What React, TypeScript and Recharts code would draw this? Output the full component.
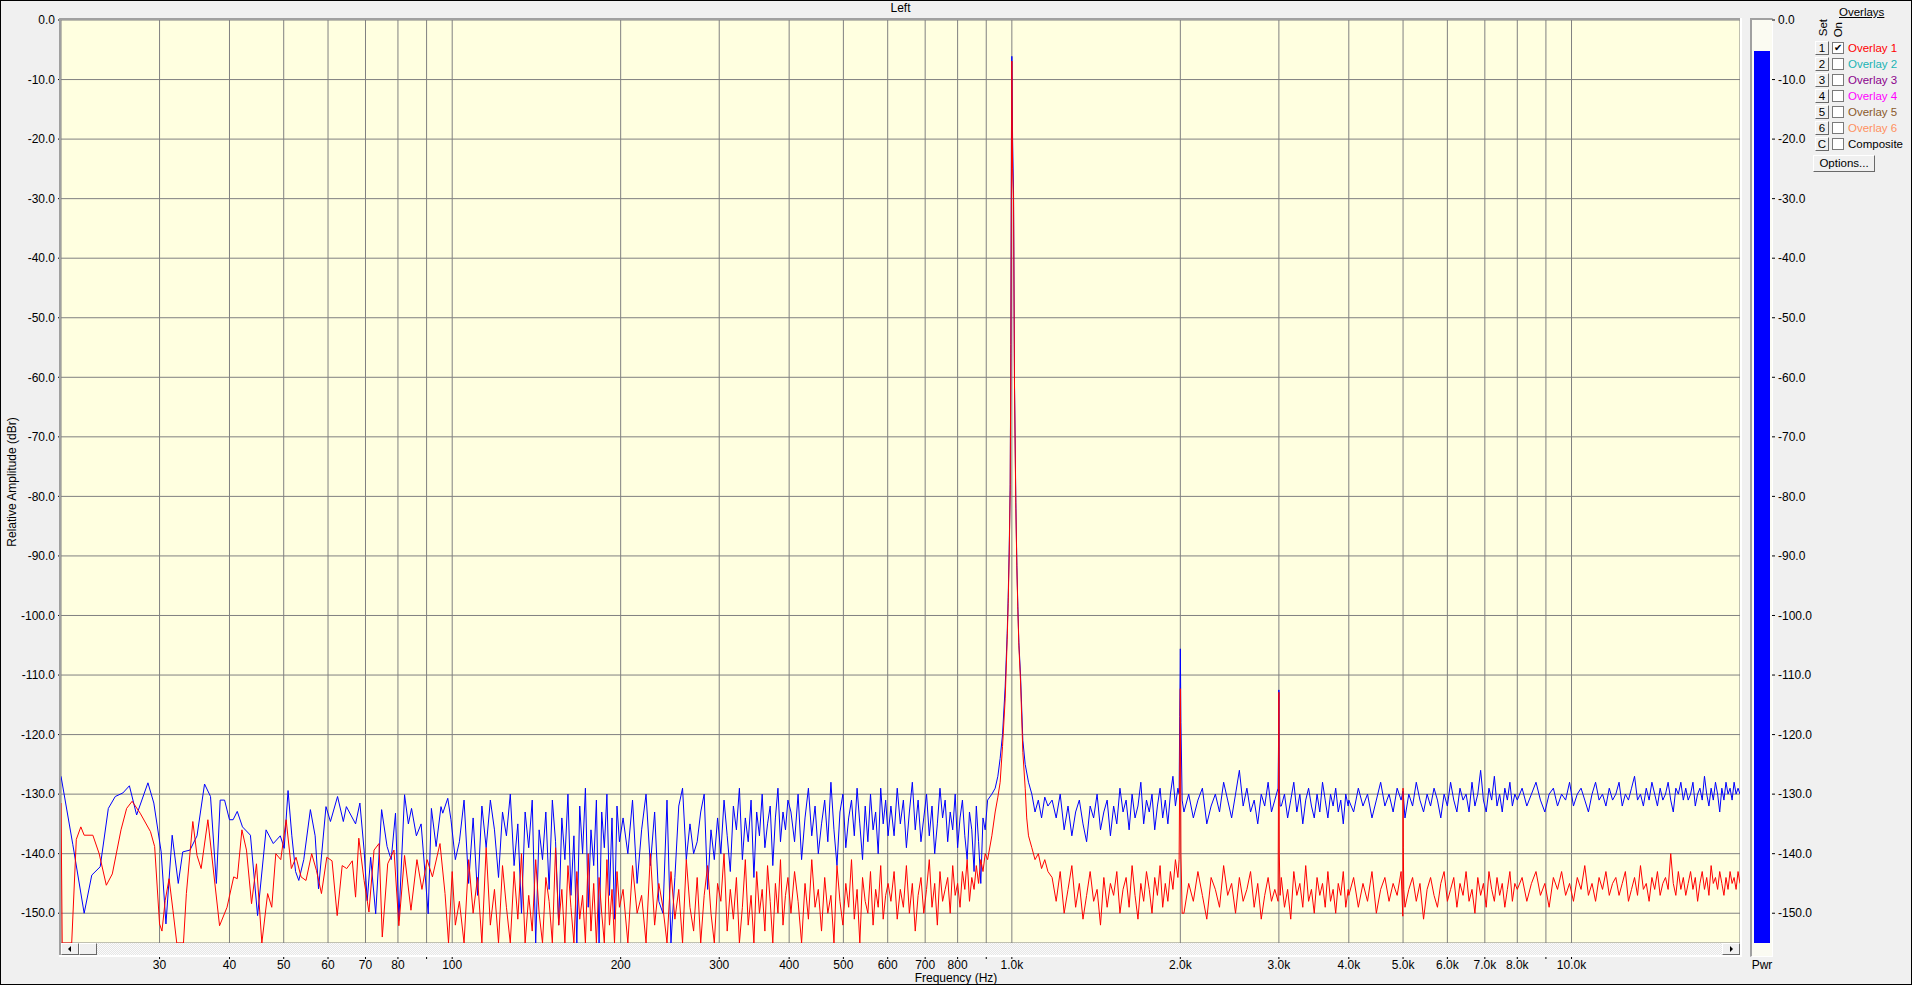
import React from 'react';
import { LineChart, Line, XAxis, YAxis, CartesianGrid, BarChart, Bar } from 'recharts';

// axis ticks
const xTicks = [30, 40, 50, 60, 70, 80, 90, 100, 200, 300, 400, 500, 600, 700, 800, 900, 1000, 2000, 3000, 4000, 5000, 6000, 7000, 8000, 9000, 10000];
const xTickLabels = ['30', '40', '50', '60', '70', '80', '', '100', '200', '300', '400', '500', '600', '700', '800', '', '1.0k', '2.0k', '3.0k', '4.0k', '5.0k', '6.0k', '7.0k', '8.0k', '', '10.0k'];
const yTicks = [0, -10, -20, -30, -40, -50, -60, -70, -80, -90, -100, -110, -120, -130, -140, -150];

// 20-100 Hz, read point by point as [Hz, dBr]
const blueLow = [
  [20, -127], [21, -138.5], [22, -150], [22.7, -143.6], [23.5, -142.2], [24.3, -132.4], [25, -130.4], [25.8, -129.8], [26.5, -128.6], [27.3, -133.5],
  [28.6, -128.1], [29.3, -131.5], [30.2, -139.7], [30.8, -151.8], [31.6, -136.9], [32.4, -145], [33, -139.7], [34, -139.4], [35, -137], [36.1, -128.3],
  [37, -130.4], [37.9, -145], [38.5, -131], [39.2, -131], [40, -134.3], [40.6, -134.3], [41.3, -132.9], [42.2, -135.5], [43.6, -136.9], [44.9, -150.4],
  [46.5, -136], [47.9, -138.3], [49.3, -137], [50.1, -139.1], [50.9, -129.4], [51.7, -137], [52.5, -143], [53.2, -144.5], [54.3, -141], [55.8, -132.6],
  [56.9, -137], [57.7, -145.9], [59.5, -132.1], [60.6, -134.6], [62.4, -130.4], [63.9, -134.6], [64.7, -132.1], [67.2, -135], [68.4, -131.5], [69.6, -139.4],
  [70.5, -147.9], [71.5, -140.6], [73, -150.1], [74.8, -132.6], [76.5, -138.8], [77.8, -141], [79.2, -133.2], [80.3, -151.2], [82.2, -130.1], [83.5, -135],
  [84.6, -132.4], [86.3, -137], [88, -135], [90.6, -150.1], [91.8, -132.4], [93.6, -138.8], [95.5, -132.1], [96.2, -133.2], [98.2, -130.7], [99.5, -134.3],
  [101.3, -141],
];
const redLow = [
  [20, -131.5], [20.1, -155], [20.9, -155], [21.3, -137.6], [21.7, -135.5], [22, -136.9], [22.8, -136.9], [23.4, -140], [24.1, -145.3], [24.7, -143.4],
  [25.6, -136], [26.2, -132.4], [26.8, -131.2], [27.7, -133.2], [28.9, -136.3], [29.4, -138.8], [30, -151.8], [30.3, -153], [30.7, -147.9], [31.2, -144.2],
  [31.7, -149.5], [32.2, -155], [33.1, -155], [33.5, -146.7], [34.4, -134.6], [35, -140.3], [35.6, -142.5], [36.6, -134.3], [37.3, -141.4], [38.4, -152.1],
  [39.6, -149], [40.7, -143.9], [41.3, -144.2], [42.1, -136], [42.9, -139.4], [43.8, -148.4], [44.7, -141.7], [45.7, -155], [46.8, -146.7], [47.6, -149],
  [48.4, -140], [49.4, -141], [50.5, -134.3], [51.6, -142.5], [52.6, -140.6], [53.7, -143.9], [54.8, -144.5], [56.1, -140], [57.2, -142.8], [58.4, -146.7],
  [59.7, -140.6], [61, -141.2], [62.3, -150.4], [63.6, -142], [64.8, -142.5], [66.3, -141.2], [67.2, -147.3], [68.1, -137.4], [69.6, -144.5], [71, -149.8],
  [72.5, -139.4], [74, -138.3], [75, -154], [76.7, -141.7], [78.7, -139.4], [80.3, -152.1], [82.2, -140.3], [84.4, -149.5], [86.5, -141], [88.3, -146],
  [90.2, -141], [92.2, -143.9], [95.1, -138.3], [97.1, -146.7], [98.5, -155], [100, -143], [101.3, -152],
];

// 100-900 Hz noise floor
const midHz1 = [103, 105, 107, 109, 111, 113, 115, 117, 119, 121, 123, 125, 127, 129, 131, 133, 135, 137, 139, 141, 143, 145, 147, 149, 151, 153, 155, 157, 159, 161, 163, 165, 167, 169, 171, 173, 175, 177, 179, 181, 183, 185, 187, 189, 191, 193, 195, 197, 199];
const blueMid1 = [-138, -131, -145, -134, -147, -132, -139, -131, -136, -144, -133, -137, -130, -142, -135, -150, -133, -139, -131, -155, -136, -141, -133, -146, -131, -138, -152, -134, -141, -130, -147, -137, -155, -132, -140, -129, -149, -136, -142, -131, -155, -133, -139, -130, -147, -134, -151, -132, -138];
const redMid1 = [-148, -155, -141, -150, -144, -155, -139, -152, -146, -155, -142, -149, -155, -143, -151, -140, -155, -147, -153, -141, -150, -155, -144, -148, -155, -139, -152, -146, -155, -142, -149, -155, -143, -151, -147, -155, -140, -153, -145, -155, -144, -150, -155, -141, -152, -146, -155, -143, -149];

const midHz2 = [202, 206, 210, 214, 218, 222, 226, 230, 234, 238, 242, 246, 250, 254, 258, 262, 266, 270, 274, 278, 282, 286, 290, 294, 298, 302, 306, 310, 314, 318, 322, 326, 330, 334, 338, 342, 346, 350, 354, 358, 362, 366, 370, 374, 378, 382, 386, 390, 394, 398];
const blueMid2 = [-134, -140, -131, -145, -136, -130, -142, -133, -148, -150, -131, -155, -144, -132, -129, -141, -135, -140, -138, -133, -130, -146, -136, -141, -134, -140, -131, -137, -143, -132, -136, -129, -141, -134, -138, -131, -144, -133, -137, -130, -139, -135, -132, -142, -134, -129, -138, -133, -136, -131];
const redMid2 = [-146, -155, -142, -150, -147, -155, -140, -152, -145, -149, -155, -143, -151, -146, -155, -141, -149, -153, -144, -155, -147, -142, -150, -155, -145, -148, -140, -153, -146, -151, -144, -155, -149, -141, -152, -147, -155, -143, -150, -146, -153, -142, -148, -155, -145, -150, -141, -152, -147, -144];

const midHz3 = [403, 409, 415, 421, 427, 433, 439, 445, 451, 457, 463, 469, 475, 481, 487, 493, 499, 505, 511, 517, 523, 529, 535, 541, 547, 553, 559, 565, 571, 577, 583, 589, 595, 601];
const blueMid3 = [-133, -138, -130, -141, -134, -129, -137, -132, -140, -135, -131, -138, -128, -136, -142, -133, -130, -139, -134, -131, -137, -129, -135, -141, -132, -138, -130, -136, -133, -140, -129, -135, -131, -137];
const redMid3 = [-150, -143, -148, -155, -145, -151, -141, -149, -146, -153, -144, -150, -147, -155, -142, -148, -152, -145, -149, -141, -151, -146, -155, -144, -148, -150, -143, -152, -146, -149, -142, -151, -147, -145];

const midHz4 = [608, 616, 624, 632, 640, 648, 656, 664, 672, 680, 688, 696, 704, 712, 720, 728, 736, 744, 752, 760, 768, 776, 784, 792, 800, 808, 816, 824, 832, 840, 848, 856, 864, 872, 880, 888, 896];
const blueMid4 = [-132, -137, -129, -135, -131, -139, -133, -128, -136, -131, -138, -134, -130, -137, -132, -140, -135, -129, -134, -131, -138, -133, -136, -130, -139, -134, -131, -137, -141, -133, -136, -143, -132, -138, -145, -134, -136];
const redMid4 = [-148, -143, -151, -146, -149, -142, -150, -145, -153, -147, -144, -150, -146, -141, -149, -145, -152, -143, -148, -146, -144, -150, -142, -147, -145, -149, -143, -146, -141, -148, -144, -146, -142, -145, -141, -143, -140];

// 1 kHz test tone
const bluePeak = [
  [905, -131], [921, -130], [933.7, -129], [944, -127], [953, -124], [962.3, -120], [972.9, -112], [981, -103], [985, -97], [989.1, -89],
  [993.2, -78], [995.9, -54.5], [998, -22], [1000, -6.1], [1003, -20], [1006.9, -28.7], [1011, -61.4], [1016.6, -81], [1020.8, -91.6], [1025, -98.5],
  [1029.2, -104.5], [1036.3, -110], [1046.3, -121], [1056.4, -125], [1070.9, -128], [1085.7, -130], [1100, -133], [1115, -131], [1130, -134], [1145, -130.5],
  [1160, -132],
];
const redPeak = [
  [905, -141], [921, -137], [933.7, -133], [944, -130.5], [953, -128], [962.3, -122], [972.9, -114], [981, -104], [985, -98], [989.1, -90],
  [993.2, -79], [995.9, -56], [998, -30], [1000, -6.9], [1003, -25], [1006.9, -30], [1011, -62], [1016.6, -82], [1020.8, -92], [1025, -99],
  [1029.2, -105], [1036.3, -111], [1046.3, -123], [1056.4, -129], [1063, -134], [1070.9, -137], [1085.7, -139], [1100, -141], [1115, -140], [1130, -142.5],
  [1145, -141], [1160, -143],
];

// harmonics at 2k, 3k, 5k
const blueSpurs = [[1990, -130], [1995, -117], [2000, -105.6], [2005, -118], [2015, -131], [2995, -122.5], [3000, -112.5], [3005, -129], [3015, -132], [5000, -129.5]];
const redSpurs = [[1990, -141], [1995, -126], [2000, -112.3], [2005, -140], [2015, -150], [2995, -130], [3000, -112.9], [3005, -140], [3015, -147], [4995, -150.5], [5000, -129], [5005, -139], [5015, -146]];

// 1.2k-20k noise floor
const hiHz1 = [1180, 1200, 1220, 1240, 1260, 1280, 1300, 1320, 1340, 1360, 1380, 1400, 1420, 1440, 1460, 1480, 1500, 1520, 1540, 1560, 1580, 1600, 1620, 1640, 1660, 1680, 1700, 1720, 1740, 1760, 1780, 1800, 1820, 1840, 1860, 1880, 1900, 1920, 1940, 1960, 1980];
const blueHi1 = [-131, -134, -130, -136, -132, -137, -133, -131, -135, -138, -132, -134, -130, -136, -133, -131, -137, -132, -135, -129, -133, -131, -136, -130, -134, -132, -128, -135, -131, -133, -130, -136, -132, -129, -134, -131, -135, -130, -127, -132, -129];
const redHi1 = [-144, -148, -143, -150, -146, -142, -149, -145, -151, -147, -143, -148, -146, -152, -144, -149, -145, -147, -143, -150, -146, -144, -149, -142, -147, -151, -145, -148, -143, -146, -150, -144, -147, -142, -149, -145, -148, -143, -146, -141, -144];

const hiHz2 = [2030, 2070, 2110, 2150, 2190, 2230, 2270, 2310, 2350, 2390, 2430, 2470, 2510, 2550, 2590, 2630, 2670, 2710, 2750, 2790, 2830, 2870, 2910, 2950, 2990, 3030, 3070, 3110, 3150, 3190, 3230, 3270, 3310, 3350, 3390, 3430, 3470, 3510, 3550, 3590, 3630, 3670, 3710, 3750, 3790, 3830, 3870, 3910, 3950, 3990];
const blueHi2 = [-133, -130, -134, -131, -129, -135, -132, -130, -133, -128, -131, -134, -130, -126, -132, -129, -133, -131, -135, -130, -132, -128, -133, -131, -129, -132, -130, -134, -131, -128, -133, -130, -135, -131, -129, -132, -134, -130, -133, -128, -131, -134, -130, -132, -129, -133, -131, -135, -130, -132];
const redHi2 = [-150, -145, -148, -143, -147, -151, -144, -146, -149, -142, -147, -145, -150, -144, -148, -146, -143, -149, -145, -151, -147, -144, -148, -146, -148, -144, -149, -146, -151, -143, -147, -145, -149, -142, -148, -146, -150, -144, -147, -145, -149, -143, -148, -146, -150, -145, -147, -143, -149, -146];

const hiHz3 = [4000, 4080, 4160, 4240, 4320, 4400, 4480, 4560, 4640, 4720, 4800, 4880, 4960, 5040, 5120, 5200, 5280, 5360, 5440, 5520, 5600, 5680, 5760, 5840, 5920, 6000, 6080, 6160, 6240, 6320, 6400, 6480, 6560, 6640, 6720, 6800, 6880, 6960, 7040, 7120, 7200, 7280, 7360, 7440, 7520, 7600, 7680, 7760, 7840, 7920];
const blueHi3 = [-131, -133, -129, -132, -130, -134, -131, -128, -132, -130, -133, -129, -131, -134, -130, -132, -128, -131, -133, -130, -132, -129, -131, -134, -130, -132, -128, -131, -133, -129, -131, -130, -133, -128, -132, -130, -126, -131, -133, -129, -131, -127, -132, -130, -133, -129, -131, -128, -132, -130];
const redHi3 = [-147, -144, -149, -145, -148, -143, -150, -146, -144, -148, -145, -147, -143, -149, -146, -144, -148, -145, -151, -146, -144, -147, -149, -145, -143, -148, -146, -144, -149, -145, -147, -143, -148, -146, -150, -144, -147, -145, -149, -143, -146, -148, -144, -147, -145, -149, -146, -143, -148, -145];

const hiHz4 = [8000, 8160, 8320, 8480, 8640, 8800, 8960, 9120, 9280, 9440, 9600, 9760, 9920, 10080, 10240, 10400, 10560, 10720, 10880, 11040, 11200, 11360, 11520, 11680, 11840, 12000, 12160, 12320, 12480, 12640, 12800, 12960, 13120, 13280, 13440, 13600, 13760, 13920, 14080, 14240, 14400, 14560, 14720, 14880, 15040, 15200, 15360, 15520, 15680, 15840, 16000, 16160, 16320, 16480, 16640, 16800, 16960, 17120, 17280, 17440, 17600, 17760, 17920, 18080, 18240, 18400, 18560, 18720, 18880, 19040, 19200, 19360, 19520, 19680, 19840, 20000];
const blueHi4 = [
  -131, -129, -132, -130, -128, -131, -133, -130, -129, -132, -130, -131, -128, -132, -130, -129, -131, -133, -130, -128, -131, -130, -132, -129, -131,
  -130, -128, -132, -130, -131, -129, -127, -131, -130, -132, -129, -131, -128, -130, -132, -129, -131, -130, -128, -131, -133, -129, -130, -128, -131,
  -129, -131, -130, -128, -132, -130, -129, -131, -127, -130, -132, -129, -131, -128, -130, -133, -129, -131, -128, -130, -129, -131, -128, -130, -129, -130,
];
const redHi4 = [
  -146, -144, -148, -145, -143, -147, -145, -149, -144, -146, -143, -147, -145, -148, -144, -146, -142, -147, -145, -148, -144, -146, -143, -147, -145,
  -144, -147, -145, -143, -148, -146, -144, -147, -142, -146, -145, -148, -144, -146, -143, -147, -145, -144, -146, -140, -145, -147, -143, -146, -144,
  -147, -145, -143, -146, -144, -148, -145, -143, -146, -144, -147, -142, -145, -144, -146, -143, -145, -147, -144, -146, -143, -145, -144, -146, -143, -145,
];

// power meter
const pwrLevel = -5.2;
const pwrFloor = -155;

// overlay panel
const overlayKeys = ['1', '2', '3', '4', '5', '6', 'C'];
const overlayNames = ['Overlay 1', 'Overlay 2', 'Overlay 3', 'Overlay 4', 'Overlay 5', 'Overlay 6', 'Composite'];
const overlayColors = ['#ff0000', '#1ab4b4', '#8b008b', '#ff00ff', '#8b5a2b', '#ff9060', '#000000'];
const overlayOn = [true, false, false, false, false, false, false];

type Pt = { f: number; db: number };
const fromPairs = (rows: number[][]): Pt[] => rows.map(([f, db]) => ({ f, db }));
const zip = (hz: number[], db: number[]): Pt[] => hz.map((f, i) => ({ f, db: db[i] }));
const byFreq = (a: Pt, b: Pt) => a.f - b.f;

const blueData = [
  ...fromPairs(blueLow),
  ...zip(midHz1, blueMid1), ...zip(midHz2, blueMid2), ...zip(midHz3, blueMid3), ...zip(midHz4, blueMid4),
  ...fromPairs(bluePeak), ...fromPairs(blueSpurs),
  ...zip(hiHz1, blueHi1), ...zip(hiHz2, blueHi2), ...zip(hiHz3, blueHi3), ...zip(hiHz4, blueHi4),
].sort(byFreq);

const redData = [
  ...fromPairs(redLow),
  ...zip(midHz1, redMid1), ...zip(midHz2, redMid2), ...zip(midHz3, redMid3), ...zip(midHz4, redMid4),
  ...fromPairs(redPeak), ...fromPairs(redSpurs),
  ...zip(hiHz1, redHi1), ...zip(hiHz2, redHi2), ...zip(hiHz3, redHi3), ...zip(hiHz4, redHi4),
].sort(byFreq);

const pwrData = [{ name: 'Pwr', range: [pwrFloor, pwrLevel] }];

const FONT = '"Liberation Sans", Arial, sans-serif';

const bevel: React.CSSProperties = {
  position: 'absolute',
  boxSizing: 'border-box',
  background: '#f0f0f0',
  borderTop: '1px solid #ffffff',
  borderLeft: '1px solid #ffffff',
  borderRight: '1px solid #696969',
  borderBottom: '1px solid #696969',
};

// tick mark sits just under the scroll strip, label below it
const FreqTick = ({ x, y, payload }: any) => {
  const label = xTickLabels[xTicks.indexOf(payload.value)] || '';
  return (
    <g>
      <line x1={x} x2={x} y1={y + 6} y2={y + 10} stroke="#000" />
      {label && (
        <text x={x} y={y + 20} textAnchor="middle" fontSize={12} fill="#000">
          {label}
        </text>
      )}
    </g>
  );
};

const PwrTick = ({ x, y, payload }: any) => (
  <text x={x} y={y + 20} textAnchor="middle" fontSize={12} fill="#000">
    {payload.value}
  </text>
);

const OverlayPanel = () => (
  <div style={{ position: 'absolute', left: 0, top: 0, fontSize: 11.5, fontFamily: FONT }}>
    <div style={{ position: 'absolute', left: 1839, top: 6, textDecoration: 'underline', whiteSpace: 'nowrap' }}>Overlays</div>
    <div style={{ position: 'absolute', left: 1818, top: 19, writingMode: 'vertical-rl', transform: 'rotate(180deg)', lineHeight: '11px' }}>Set</div>
    <div style={{ position: 'absolute', left: 1833, top: 22, writingMode: 'vertical-rl', transform: 'rotate(180deg)', lineHeight: '11px' }}>On</div>
    {overlayNames.map((name, i) => (
      <React.Fragment key={name}>
        <div style={{ ...bevel, left: 1815, top: 41 + i * 16, width: 14, height: 14, textAlign: 'center', lineHeight: '12px' }}>
          {overlayKeys[i]}
        </div>
        <div
          style={{
            position: 'absolute', left: 1832, top: 42 + i * 16, width: 12, height: 12, boxSizing: 'border-box',
            background: '#fff', border: '1px solid #7a7a7a', fontSize: 10, lineHeight: '10px', textAlign: 'center',
          }}
        >
          {overlayOn[i] ? '\u2714' : ''}
        </div>
        <div style={{ position: 'absolute', left: 1848, top: 41 + i * 16, lineHeight: '14px', color: overlayColors[i], whiteSpace: 'nowrap' }}>
          {name}
        </div>
      </React.Fragment>
    ))}
    <div style={{ ...bevel, left: 1813, top: 155, width: 62, height: 17, textAlign: 'center', lineHeight: '15px' }}>Options...</div>
  </div>
);

const ScrollBar = () => (
  <>
    <div
      style={{
        position: 'absolute', left: 61, top: 943, width: 1679, height: 12,
        background: 'repeating-conic-gradient(#e6e6e6 0% 25%, #fbfbfb 0% 50%) 0 0 / 2px 2px',
      }}
    />
    <div style={{ ...bevel, left: 61, top: 943, width: 18, height: 12 }}>
      <div style={{ position: 'absolute', left: 6, top: 2, width: 0, height: 0, borderTop: '3px solid transparent', borderBottom: '3px solid transparent', borderRight: '3px solid #000' }} />
    </div>
    <div style={{ ...bevel, left: 79, top: 943, width: 18, height: 12 }} />
    <div style={{ ...bevel, left: 1722, top: 943, width: 18, height: 12 }}>
      <div style={{ position: 'absolute', left: 7, top: 2, width: 0, height: 0, borderTop: '3px solid transparent', borderBottom: '3px solid transparent', borderLeft: '3px solid #000' }} />
    </div>
  </>
);

const App: React.FC = () => {
  return (
    <div style={{ position: 'fixed', left: 0, top: 0, width: 1912, height: 985, background: '#f0f0f0', overflow: 'hidden', fontFamily: FONT }}>
      {/* title */}
      <div style={{ position: 'absolute', left: 61, top: 1, width: 1679, textAlign: 'center', fontSize: 12, lineHeight: '14px' }}>Left</div>

      {/* main spectrum */}
      <div style={{ position: 'absolute', left: 0, top: 0 }}>
        <LineChart width={1750} height={985} margin={{ top: 20, right: 10, bottom: 0, left: 0 }} style={{ fontFamily: FONT }}>
          <CartesianGrid stroke="#808080" fill="#ffffe0" fillOpacity={1} />
          <XAxis
            type="number"
            dataKey="f"
            scale="log"
            domain={[20, 20000]}
            allowDataOverflow
            ticks={xTicks}
            interval={0}
            height={42}
            axisLine={false}
            tickLine={false}
            tickMargin={0}
            tick={<FreqTick />}
          />
          <YAxis
            type="number"
            domain={[-155, 0]}
            allowDataOverflow
            ticks={yTicks}
            interval={0}
            width={61}
            axisLine={false}
            tickSize={3}
            tickMargin={3}
            tickLine={{ stroke: '#000' }}
            tick={{ fill: '#000', fontSize: 12 }}
            tickFormatter={(v: number) => v.toFixed(1)}
          />
          <Line data={blueData} dataKey="db" type="linear" stroke="#0000ff" strokeWidth={1} dot={false} isAnimationActive={false} />
          <Line data={redData} dataKey="db" type="linear" stroke="#ff0000" strokeWidth={1} dot={false} isAnimationActive={false} />
        </LineChart>
      </div>

      {/* sunken frame round the plot */}
      <div style={{ position: 'absolute', left: 59, top: 18, width: 1683, height: 2, background: '#a0a0a0' }} />
      <div style={{ position: 'absolute', left: 59, top: 18, width: 2, height: 939, background: '#a0a0a0' }} />
      <div style={{ position: 'absolute', left: 1740, top: 18, width: 2, height: 939, background: '#ffffff' }} />
      <div style={{ position: 'absolute', left: 59, top: 955, width: 1683, height: 2, background: '#ffffff' }} />
      <ScrollBar />

      {/* y label */}
      <svg style={{ position: 'absolute', left: 0, top: 0 }} width={30} height={985}>
        <text x={12} y={482} transform="rotate(-90, 12, 482)" textAnchor="middle" dominantBaseline="central" fontSize={12} fill="#000" fontFamily={FONT}>
          Relative Amplitude (dBr)
        </text>
      </svg>

      {/* x label */}
      <div style={{ position: 'absolute', left: 0, top: 972, width: 1912, textAlign: 'center', fontSize: 12, lineHeight: '13px' }}>Frequency (Hz)</div>

      {/* power meter */}
      <div
        style={{
          position: 'absolute', left: 1750, top: 18, width: 23, height: 939, boxSizing: 'border-box', background: '#fbfbf2',
          borderLeft: '2px solid #a0a0a0', borderTop: '2px solid #a0a0a0', borderRight: '1px solid #fff', borderBottom: '1px solid #fff',
        }}
      />
      <div style={{ position: 'absolute', left: 1740, top: 0 }}>
        <BarChart width={110} height={985} data={pwrData} margin={{ top: 20, right: 0, bottom: 0, left: 12 }} barCategoryGap={0} style={{ fontFamily: FONT }}>
          <XAxis dataKey="name" height={42} axisLine={false} tickLine={false} tickMargin={0} tick={<PwrTick />} />
          <YAxis
            orientation="right"
            type="number"
            domain={[-155, 0]}
            allowDataOverflow
            ticks={yTicks}
            interval={0}
            width={78}
            axisLine={false}
            tickSize={3}
            tickMargin={3}
            tickLine={{ stroke: '#000' }}
            tick={{ fill: '#000', fontSize: 12 }}
            tickFormatter={(v: number) => v.toFixed(1)}
          />
          <Bar dataKey="range" fill="#0000ff" barSize={16} isAnimationActive={false} />
        </BarChart>
      </div>

      <OverlayPanel />

      {/* window edge */}
      <div style={{ position: 'absolute', left: 0, top: 0, width: 1912, height: 985, boxSizing: 'border-box', border: '1px solid #000', pointerEvents: 'none' }} />
    </div>
  );
};

export default App;
